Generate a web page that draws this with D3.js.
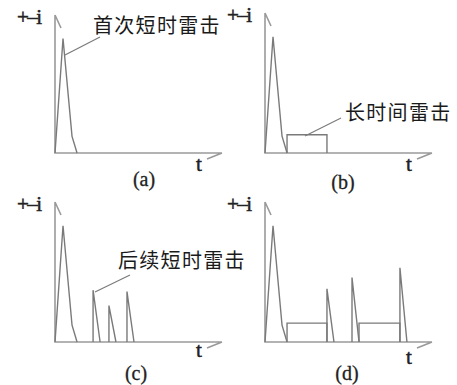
<!DOCTYPE html>
<html>
<head>
<meta charset="utf-8">
<script src="https://cdn.jsdelivr.net/npm/d3@7"></script>
<style>
  body { margin: 0; background: #fff; }
  svg { display: block; }
</style>
</head>
<body>
<svg id="chart" width="457" height="385"></svg>
<script>
// waveforms, t in 0..100, i in 0..100 (relative units)
var firstStroke = [[0, 0], [4.8, 83], [10.2, 12], [13.2, 0]];

var contB = [[13.2, 0], [13.2, 13], [37.1, 13], [37.1, 0]];

var subsequentC = [
	[[22.8, 0], [22.8, 37], [27, 0]],
	[[32.3, 0], [32.3, 26], [36.5, 0]],
	[[43.1, 0], [43.1, 36], [47.3, 0]]
];

var contD = [
	[[13.2, 0], [13.2, 13.5], [37.1, 13.5], [37.1, 0]],
	[[56.3, 0], [56.3, 13.5], [80.8, 13.5], [80.8, 0]]
];
var subsequentD = [
	[[37.1, 0], [37.1, 38], [41.3, 0]],
	[[52.1, 0], [52.1, 46], [56.3, 0]],
	[[80.8, 0], [80.8, 53], [85, 0]]
];

var panelNames = ["(a)", "(b)", "(c)", "(d)"];
var labels = ["首次短时雷击", "长时间雷击", "后续短时雷击", null];

var svg = d3.select("#chart"),
	axisColor = "#9a9a9a",
	waveColor = "#7a7a7a";

// panel origin = where the axes cross; lead = leader line in pixels
var panels = [
	{ ox: 55, oy: 153, h: 138, tY: 171, capY: 186, capX: 144, lab: [93, 33], lead: [65, 55, 100, 37] },
	{ ox: 265, oy: 153, h: 140, tY: 171, capY: 189, capX: 343, lab: [345, 120], lead: [305, 136, 341, 118] },
	{ ox: 55, oy: 342, h: 140, tY: 357, capY: 380, capX: 136, lab: [118, 268], lead: [95, 292, 130, 275] },
	{ ox: 265, oy: 342, h: 140, tY: 364, capY: 380, capX: 347, lab: null }
];

var waves = [
	[firstStroke],
	[firstStroke, contB],
	[firstStroke].concat(subsequentC),
	[firstStroke].concat(contD, subsequentD)
];

panels.forEach(function(p, k) {
	var x = d3.scaleLinear().domain([0, 100]).range([p.ox, p.ox + 167]),
		y = d3.scaleLinear().domain([0, 100]).range([p.oy, p.oy - p.h]),
		line = d3.line().x(function(d) { return x(d[0]); }).y(function(d) { return y(d[1]); });

	var g = svg.append("g");

	// axes with half arrows
	var top = p.oy - p.h, right = p.ox + 167;
	g.append("path")
		.attr("d", "M" + p.ox + "," + top + "V" + p.oy + "H" + right +
			"M" + p.ox + "," + top + "L" + (p.ox + 6) + "," + (top + 13) +
			"M" + right + "," + p.oy + "L" + (right - 15) + "," + (p.oy + 6))
		.attr("fill", "none")
		.attr("stroke", axisColor)
		.attr("stroke-width", 1.6);

	g.selectAll("path.wave")
		.data(waves[k])
		.enter().append("path")
		.attr("class", "wave")
		.attr("d", line)
		.attr("fill", "none")
		.attr("stroke", waveColor)
		.attr("stroke-width", 1.4);

	// axis names
	g.append("text")
		.attr("x", p.ox - 38).attr("y", top + 9)
		.attr("font-family", "Liberation Serif")
		.attr("font-size", 21)
		.attr("letter-spacing", -1.5)
		.attr("fill", "#222")
		.attr("stroke", "#222").attr("stroke-width", 0.5)
		.text("+–i");
	g.append("text")
		.attr("x", right - 26).attr("y", p.tY)
		.attr("font-family", "Liberation Serif")
		.attr("font-size", 21)
		.attr("fill", "#222")
		.attr("stroke", "#222").attr("stroke-width", 0.5)
		.text("t");
	g.append("text")
		.attr("x", p.capX).attr("y", p.capY)
		.attr("text-anchor", "middle")
		.attr("font-family", "Liberation Serif")
		.attr("font-size", 20)
		.attr("fill", "#222")
		.attr("stroke", "#222").attr("stroke-width", 0.3)
		.text(panelNames[k]);

	if (labels[k]) {
		g.append("text")
			.attr("x", p.lab[0]).attr("y", p.lab[1])
			.attr("font-family", "Noto Sans CJK SC")
			.attr("font-size", 20)
			.attr("letter-spacing", 1.3)
			.attr("fill", "#1a1a1a")
			.text(labels[k]);
		g.append("line")
			.attr("x1", p.lead[0]).attr("y1", p.lead[1])
			.attr("x2", p.lead[2]).attr("y2", p.lead[3])
			.attr("stroke", waveColor)
			.attr("stroke-width", 1.2);
	}
});
</script>
</body>
</html>
